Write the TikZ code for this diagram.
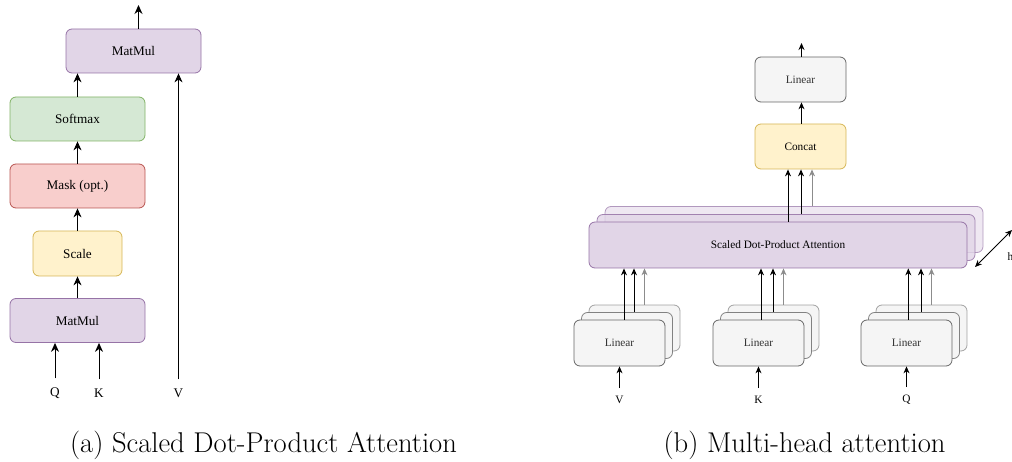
\documentclass[tikz,border=0pt]{standalone}
\usepackage{fontspec}
\newfontfamily\boxfont{Liberation Serif}
\usetikzlibrary{arrows.meta}
\definecolor{pfill}{HTML}{E1D5E7}
\definecolor{pdraw}{HTML}{9673A6}
\definecolor{gfill}{HTML}{D5E8D4}
\definecolor{gdraw}{HTML}{82B366}
\definecolor{rfill}{HTML}{F8CECC}
\definecolor{rdraw}{HTML}{B85450}
\definecolor{yfill}{HTML}{FFF2CC}
\definecolor{ydraw}{HTML}{D6B656}
\definecolor{lfill}{HTML}{F5F5F5}
\definecolor{ldraw}{HTML}{666666}
\definecolor{ltext}{HTML}{333333}
\begin{document}
\begin{tikzpicture}[x=1pt,y=-1pt,
  box/.style={draw, rounded corners=6pt, inner sep=0pt, line width=0.8pt,
    font=\boxfont\fontsize{11.3}{13}\selectfont},
  bigtxt/.style={font=\boxfont\fontsize{13.2}{15}\selectfont},
  pbox/.style={box, fill=pfill, draw=pdraw},
  gbox/.style={box, fill=gfill, draw=gdraw},
  rbox/.style={box, fill=rfill, draw=rdraw},
  ybox/.style={box, fill=yfill, draw=ydraw},
  lbox/.style={box, fill=lfill, draw=ldraw, text=ltext},
  wide/.style={minimum width=135pt, minimum height=44pt, bigtxt},
  lin/.style={lbox, minimum width=91pt, minimum height=46pt},
  att/.style={pbox, minimum width=378pt, minimum height=46pt},
  arr/.style={-{Stealth[length=7pt,width=6pt]}, line width=0.9pt},
  arrL/.style={-{Stealth[length=9pt,width=8pt]}, line width=1pt},
  garr/.style={arr, draw=black!45, color=black!45},
  darr/.style={{Stealth[length=7pt,width=6pt]}-{Stealth[length=7pt,width=6pt]}, line width=0.8pt},
  lbl/.style={font=\boxfont\fontsize{11.3}{13}\selectfont, inner sep=0pt},
  lblL/.style={font=\boxfont\fontsize{13.2}{15}\selectfont, inner sep=0pt},
  captxt/.style={font=\fontsize{28.6}{34}\selectfont, inner sep=0pt},
]
\useasboundingbox (0,0) rectangle (1012,462);

% ---------- (a) ----------
\node[pbox, wide] (mm2) at (133.5,51) {MatMul};
\node[gbox, wide] (sm) at (77.5,119) {Softmax};
\node[rbox, wide] (mask) at (77.5,186) {Mask (opt.)};
\node[ybox, minimum width=89pt, minimum height=45pt, bigtxt] (scale) at (77.5,253.5) {Scale};
\node[pbox, wide] (mm1) at (77.5,320.5) {MatMul};
\node[lblL] (q) at (55,393) {Q};
\node[lblL] (k) at (99,393) {K};
\node[lblL] (v) at (178.5,393) {V};
\coordinate (outa) at (138.5,5);

\draw[arrL] ([xshift=5pt]mm2.north) -- (outa);
\draw[arrL] (sm.north) -- (sm.north |- mm2.south);
\draw[arrL] (mask.north) -- (sm.south);
\draw[arrL] (scale.north) -- (mask.south);
\draw[arrL] (mm1.north) -- (scale.south);
\draw[arrL, shorten <=9pt] (q.north) -- (q.north |- mm1.south);
\draw[arrL, shorten <=9pt] (k.north) -- (k.north |- mm1.south);
\draw[arrL, shorten <=9pt] (v.north) -- (v.north |- mm2.south);

% ---------- (b) ----------
\node[lbox, minimum width=91pt, minimum height=45pt] (linb) at (800.5,79.5) {Linear};
\node[ybox, minimum width=91pt, minimum height=45pt] (cc) at (800.5,146.5) {Concat};
\coordinate (outb) at (801.5,43);
\draw[arr] ([xshift=1pt]linb.north) -- (outb);
\draw[arr] ([xshift=1pt]cc.north) -- ([xshift=1pt]linb.south);

% attention stack
\node[att, fill opacity=0.55, draw opacity=0.7, text opacity=0] (at3) at (794,229.5) {};
\node[att, fill opacity=0.8, draw opacity=0.85, text opacity=0] (at2) at (786,237.5) {};
\node[att] (at1) at (778,245) {Scaled Dot-Product Attention};

\draw[arr] ([xshift=10pt]at1.north) -- ([xshift=10pt]at1.north |- cc.south);
\draw[arr] ([xshift=15pt]at2.north) -- ([xshift=15pt]at2.north |- cc.south);
\draw[garr] ([xshift=18pt]at3.north) -- ([xshift=18pt]at3.north |- cc.south);

% linear stacks
\foreach \n/\cx/\ox in {v/619.5/4.5, k/758.5/2.5, q/906.5/1.8}{
  \node[lin, draw opacity=0.6] (l\n3) at (\cx+15,328) {};
  \node[lin, draw opacity=0.8] (l\n2) at (\cx+7.5,335.5) {};
  \node[lin] (l\n1) at (\cx,343) {Linear};
  \draw[arr] ([xshift=\ox pt]l\n1.north) -- ([xshift=\ox pt]l\n1.north |- at1.south);
  \draw[arr] ([xshift=7pt]l\n2.north) -- ([xshift=7pt]l\n2.north |- at1.south);
  \draw[garr] ([xshift=10pt]l\n3.north) -- ([xshift=10pt]l\n3.north |- at1.south);
  \node[lbl] (i\n) at (\cx,400) {\MakeUppercase{\n}};
  \draw[arr, shorten <=8pt] (i\n.north) -- (i\n.north |- l\n1.south);
}

% heads arrow
\coordinate (h1) at (975,267);
\coordinate (h2) at (1012,230);
\draw[darr] (h1) -- (h2);
\node[lbl, anchor=west] (hl) at (1007.5,257) {h};

% captions
\node[captxt] (capa) at (263.5,445) {(a) Scaled Dot-Product Attention};
\node[captxt] (capb) at (804.5,445) {(b) Multi-head attention};
\end{tikzpicture}
\end{document}
